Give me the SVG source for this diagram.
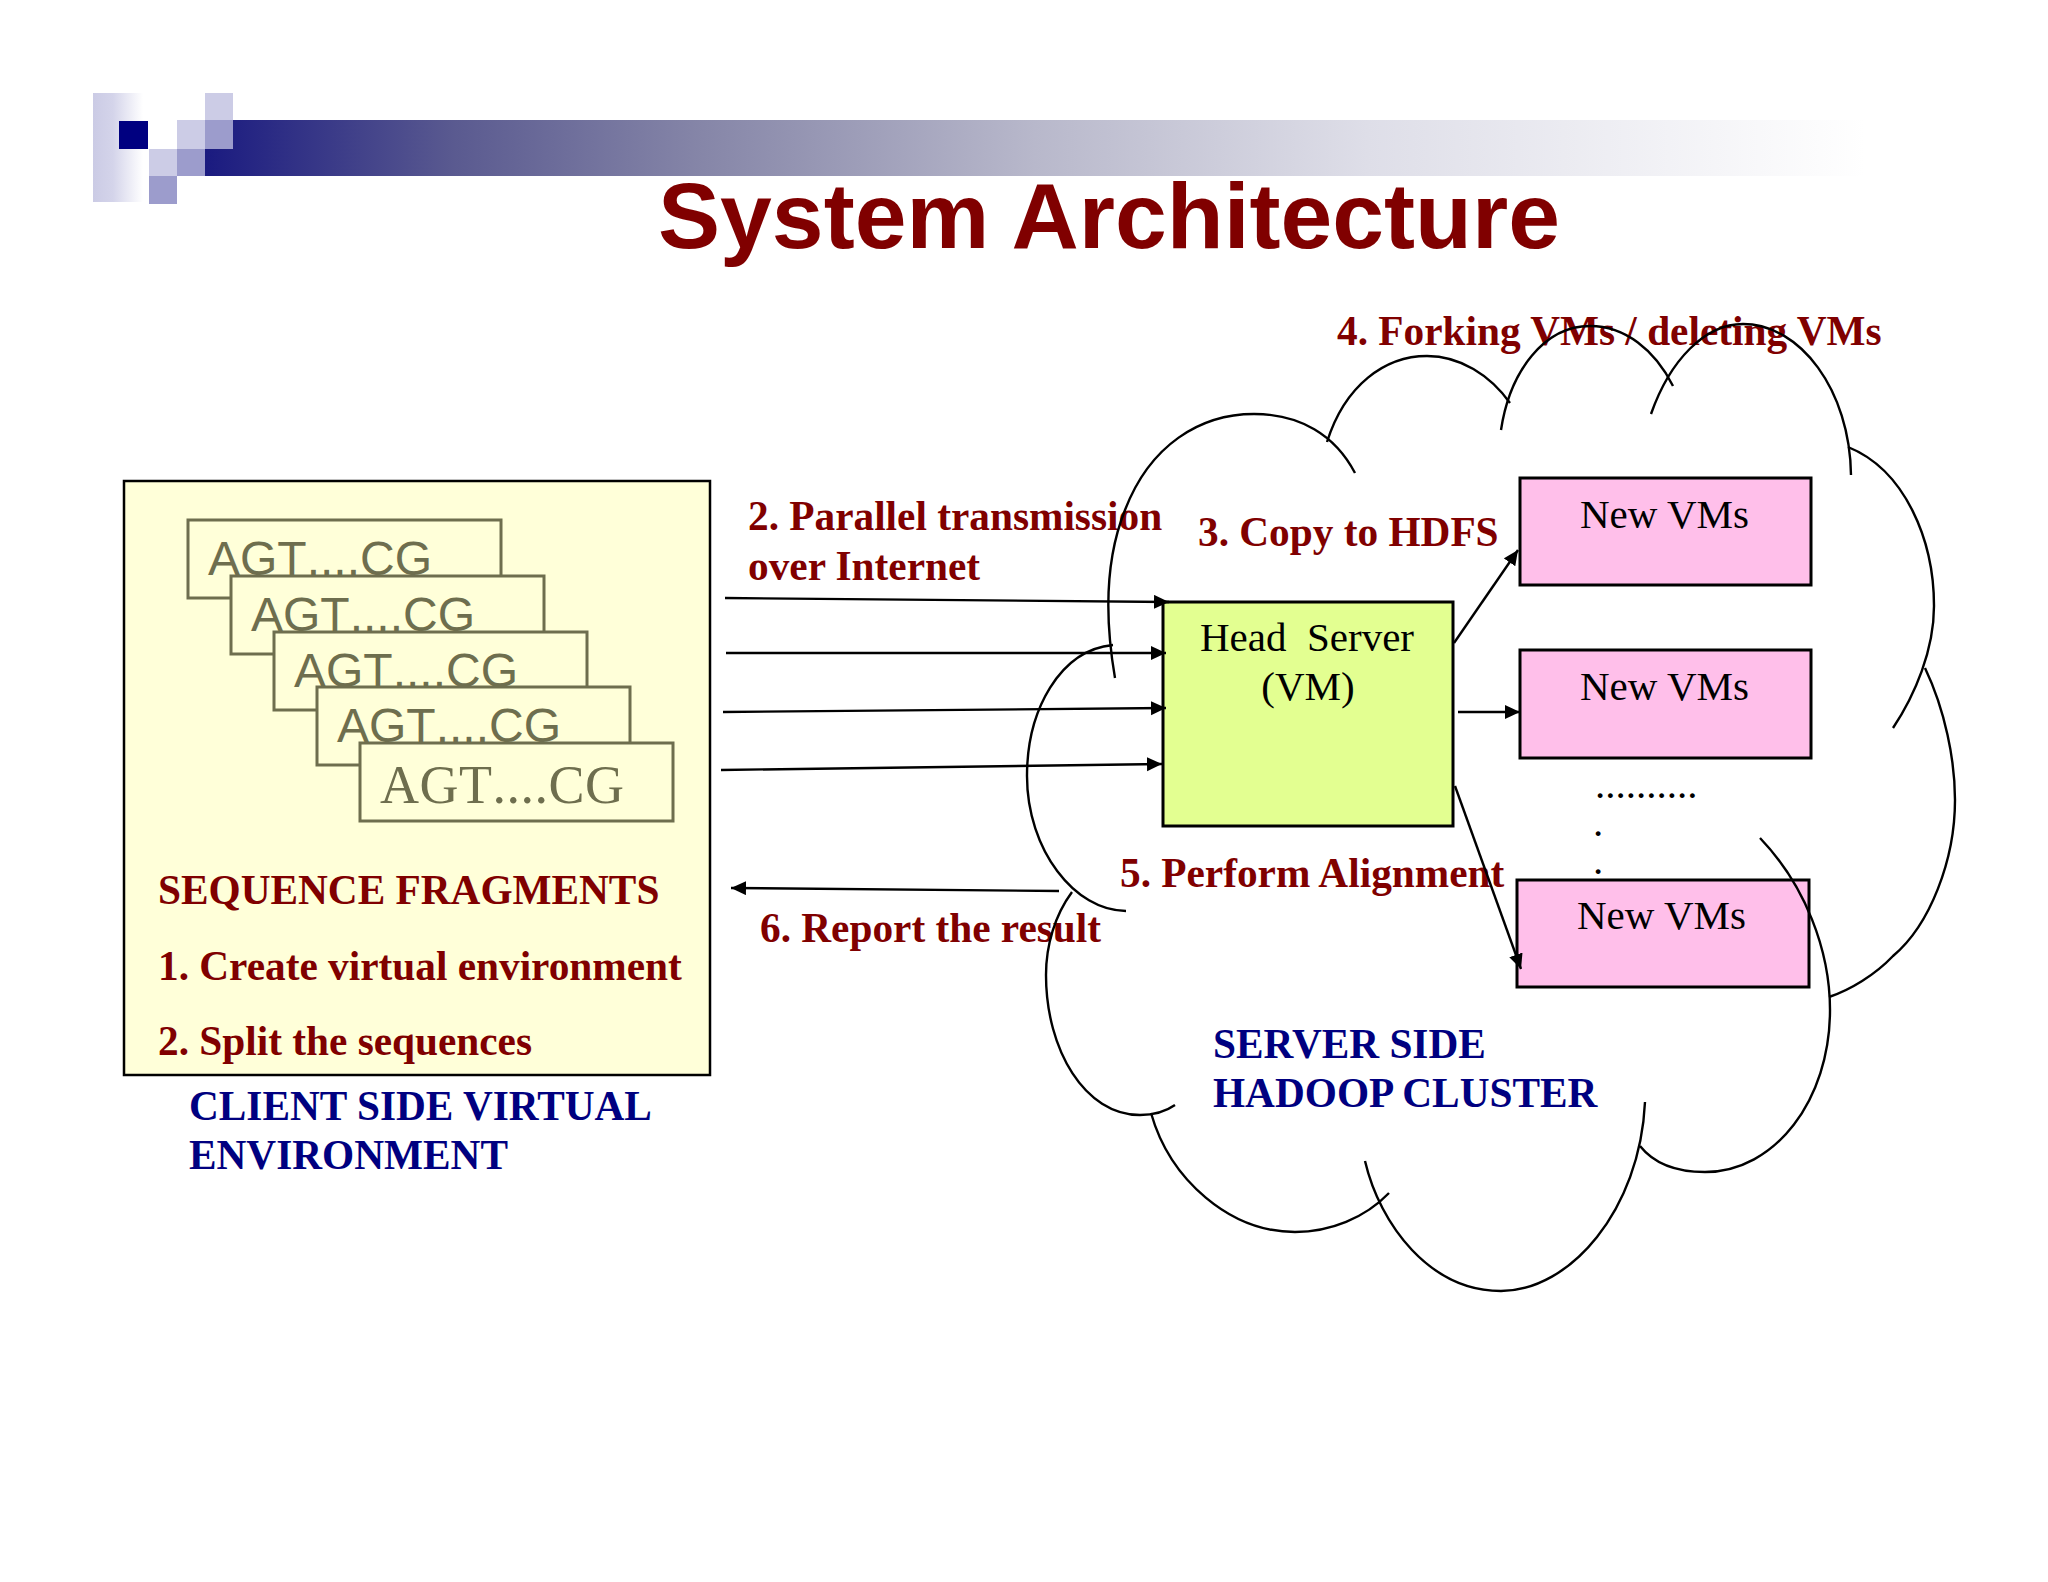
<svg xmlns="http://www.w3.org/2000/svg" width="2048" height="1582" viewBox="0 0 2048 1582">
<style>
.b{font-family:"Liberation Serif",serif;font-weight:700;font-size:41.3px}
.r{fill:#800000}.n{fill:#000080}
.t{font-family:"Liberation Serif",serif;font-size:41px;fill:#000}
.f{fill:#ffffd9;stroke:#6e6e4e;stroke-width:3}
.g{font-family:"Liberation Sans",sans-serif;font-size:48px;fill:#6e6e4e;font-kerning:none}
.s{font-family:"Liberation Serif",serif;font-size:54px;fill:#6e6e4e;font-kerning:none;letter-spacing:.5px}
.c{fill:none;stroke:#000;stroke-width:2.4}
.a{fill:none;stroke:#000;stroke-width:2.4;marker-end:url(#h)}
.v{fill:#ffbfea;stroke:#000;stroke-width:3}
.l{fill:#ccccE6}.m{fill:#9c9ccc}
</style>
<defs>
<linearGradient id="bar"><stop offset="0" stop-color="#1a1a80"/><stop offset=".15" stop-color="#5a5a90"/><stop offset=".3" stop-color="#8686a8"/><stop offset=".5" stop-color="#b8b8cb"/><stop offset=".7" stop-color="#dedee8"/><stop offset="1" stop-color="#fff"/></linearGradient>
<linearGradient id="side"><stop offset="0" stop-color="#cbcbe5"/><stop offset=".4" stop-color="#d4d4ea"/><stop offset="1" stop-color="#fff"/></linearGradient>
<marker id="h" markerUnits="userSpaceOnUse" markerWidth="18" markerHeight="16" refX="15" refY="7" orient="auto"><path d="M0 0L15 7L0 14Z" fill="#000"/></marker>
</defs>
<rect width="2048" height="1582" fill="#fff"/>
<g id="header">
<rect x="205" y="120" width="1660" height="56" fill="url(#bar)"/>
<rect x="93" y="93" width="50" height="109" fill="url(#side)"/>
<rect x="143" y="120" width="62" height="56" fill="#fff"/>
<rect x="119" y="121" width="29" height="28" fill="#000080"/>
<rect class="l" x="205" y="93" width="28" height="27"/>
<rect class="m" x="205" y="120" width="28" height="29"/>
<rect class="l" x="177" y="120" width="28" height="29"/>
<rect class="l" x="149" y="149" width="28" height="27"/>
<rect class="m" x="177" y="149" width="28" height="27"/>
<rect class="m" x="149" y="176" width="28" height="28"/>
</g>
<text id="title" x="658" y="248" font-family="Liberation Sans, sans-serif" font-weight="700" font-size="93.1" fill="#800000">System Architecture</text>
<g id="client">
<rect x="124" y="481" width="586" height="594" fill="#ffffd9" stroke="#000" stroke-width="2.5"/>
<g id="frag1"><rect class="f" x="188" y="520" width="313" height="78"/><text class="g" x="208" y="575">AGT....CG</text></g>
<g id="frag2"><rect class="f" x="231" y="576" width="313" height="78"/><text class="g" x="251" y="631">AGT....CG</text></g>
<g id="frag3"><rect class="f" x="274" y="632" width="313" height="78"/><text class="g" x="294" y="687">AGT....CG</text></g>
<g id="frag4"><rect class="f" x="317" y="687" width="313" height="78"/><text class="g" x="337" y="742">AGT....CG</text></g>
<g id="frag5"><rect class="f" x="360" y="743" width="313" height="78"/><text class="s" x="380" y="803">AGT....CG</text></g>
<text class="b r" x="158" y="904">SEQUENCE FRAGMENTS</text>
<text class="b r" x="158" y="980">1. Create virtual environment</text>
<text class="b r" x="158" y="1055">2. Split the sequences</text>
<text class="b n" x="189" y="1120">CLIENT SIDE VIRTUAL</text>
<text class="b n" x="189" y="1169">ENVIRONMENT</text>
</g>
<g id="head"><rect x="1163" y="602" width="290" height="224" fill="#e3ff91" stroke="#000" stroke-width="3"/>
<text class="t" x="1200" y="651" xml:space="preserve">Head  Server</text>
<text class="t" x="1308" y="700" text-anchor="middle">(VM)</text></g>
<g id="vm1"><rect class="v" x="1520" y="478" width="291" height="107"/><text class="t" x="1580" y="528">New VMs</text></g>
<g id="vm2"><rect class="v" x="1520" y="650" width="291" height="108"/><text class="t" x="1580" y="700">New VMs</text></g>
<g id="vm3"><rect class="v" x="1517" y="880" width="292" height="107"/><text class="t" x="1577" y="929">New VMs</text></g>
<g id="dots"><text class="t" x="1595" y="798">..........</text><text class="t" x="1593" y="836">.</text><text class="t" x="1593" y="874">.</text></g>
<g id="labels">
<text class="b r" x="748" y="530">2. Parallel transmission</text>
<text class="b r" x="748" y="580">over Internet</text>
<text class="b r" x="1198" y="546">3. Copy to HDFS</text>
<text class="b r" x="1337" y="345">4. Forking VMs / deleting VMs</text>
<text class="b r" x="1120" y="887">5. Perform Alignment</text>
<text class="b r" x="760" y="942">6. Report the result</text>
<text class="b n" x="1213" y="1058">SERVER SIDE</text>
<text class="b n" x="1213" y="1107">HADOOP CLUSTER</text>
</g>
<g id="cloud">
<path class="c" d="M1115 678C1105 620 1105 560 1125 510C1150 445 1200 414 1254 414C1300 414 1335 435 1355 473"/>
<path class="c" d="M1327 442C1345 385 1385 356 1427 356C1460 356 1490 375 1510 403"/>
<path class="c" d="M1501 430C1510 370 1545 326 1590 326C1625 326 1655 350 1673 386"/>
<path class="c" d="M1651 414C1670 360 1705 324 1743 324C1800 324 1850 390 1851 475"/>
<path class="c" d="M1848 447C1905 470 1934 540 1934 606C1934 650 1915 695 1893 728"/>
<path class="c" d="M1925 668C1945 710 1955 760 1955 800C1955 860 1930 925 1893 956C1875 975 1850 990 1829 997"/>
<path class="c" d="M1760 838C1805 885 1830 950 1830 1010C1830 1100 1775 1172 1705 1172C1680 1172 1655 1165 1640 1146"/>
<path class="c" d="M1645 1102C1640 1210 1570 1291 1501 1291C1430 1291 1380 1225 1365 1161"/>
<path class="c" d="M1389 1193C1365 1218 1330 1232 1295 1232C1230 1232 1170 1180 1151 1113"/>
<path class="c" d="M1175 1105C1165 1112 1155 1115 1140 1115C1085 1115 1046 1050 1046 975C1046 945 1055 915 1072 892"/>
<path class="c" d="M1126 911C1075 911 1027 850 1027 776C1027 710 1060 650 1113 645"/>
</g>
<g id="connectors">
<path class="a" d="M725 598L1169 602"/>
<path class="a" d="M726 653L1166 653"/>
<path class="a" d="M723 712L1166 708"/>
<path class="a" d="M721 770L1162 764"/>
<path class="a" d="M1454 643L1518 550"/>
<path class="a" d="M1458 712L1520 712"/>
<path class="a" d="M1455 786L1521 969"/>
<path class="a" d="M1059 891L731 888"/>
</g>
</svg>
